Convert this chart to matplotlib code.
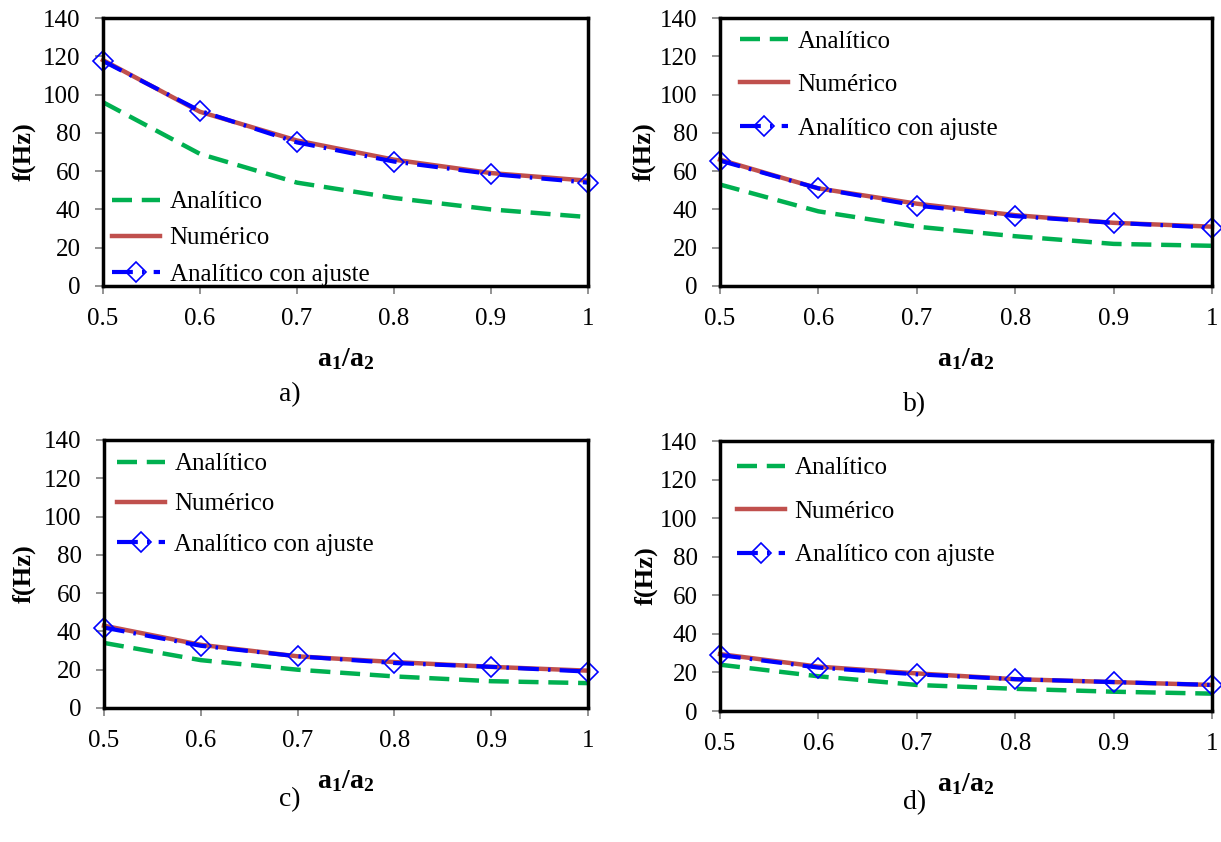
import matplotlib.pyplot as plt
from matplotlib.ticker import FuncFormatter

plt.rcParams['font.family'] = ['Liberation Serif', 'DejaVu Serif']
plt.rcParams['mathtext.fontset'] = 'custom'
plt.rcParams['mathtext.bf'] = 'Liberation Serif:bold'
plt.rcParams['mathtext.rm'] = 'Liberation Serif'

# Datos
razon = [0.5, 0.6, 0.7, 0.8, 0.9, 1.0]

analitico_a = [96, 69, 54, 46, 40, 36]
numerico_a = [118, 91, 76, 66, 59, 55]
ajuste_a = [117.5, 91.5, 75, 65, 58.5, 54]

analitico_b = [53, 39, 31, 26, 22, 21]
numerico_b = [66, 51, 43, 37, 33, 31]
ajuste_b = [65.5, 51, 42, 36.5, 33, 30.5]

analitico_c = [34, 25, 20, 16.5, 14, 13]
numerico_c = [43, 33, 27, 24, 21.5, 19.5]
ajuste_c = [42, 32.5, 27, 23.5, 21.5, 19]

analitico_d = [24, 18, 13.5, 11.5, 10, 9]
numerico_d = [29.5, 23, 19.5, 16.5, 15, 13.5]
ajuste_d = [29, 22.5, 19, 16.5, 15, 13.5]

W, H = 1221, 842

# (letra, datos..., caja en px [izq, arriba, der, abajo], leyenda (x, y) px, espaciado,
#  ylabel x px, pie (x, y) px)
paneles = [
    ('a)', analitico_a, numerico_a, ajuste_a, (103, 18, 588, 286), (112, 191), 0.54, 36, (290, 395)),
    ('b)', analitico_b, numerico_b, ajuste_b, (720, 18, 1212, 286), (740, 30), 0.84, 656, (915, 405)),
    ('c)', analitico_c, numerico_c, ajuste_c, (104, 440, 588, 708), (117, 453), 0.7, 36, (290, 800)),
    ('d)', analitico_d, numerico_d, ajuste_d, (720, 441, 1212, 711), (737, 457), 0.84, 658, (915, 803)),
]

fig = plt.figure(figsize=(W / 100, H / 100), dpi=100)

for letra, an, nu, aj, caja, ley, esp, ylx, pie in paneles:
    x0, y0, x1, y1 = caja
    ax = fig.add_axes([x0 / W, 1 - y1 / H, (x1 - x0) / W, (y1 - y0) / H])
    ax.plot(razon, an, color='#00B050', lw=3.2, ls=(0, (4.5, 2.2)), label='Analítico')
    ax.plot(razon, nu, color='#C0504D', lw=3.2, label='Numérico')
    ax.plot(razon, aj, color='#0000FF', lw=3, ls=(0, (5, 2.2, 0.6, 2.2)), marker='D',
            markersize=10, markerfacecolor='none', markeredgecolor='#0000FF',
            markeredgewidth=1.2, label='Analítico con ajuste')
    ax.set_xlim(0.5, 1.0)
    ax.set_ylim(0, 140)
    ax.set_xticks(razon)
    ax.set_yticks(range(0, 141, 20))
    ax.xaxis.set_major_formatter(FuncFormatter(lambda v, p: ('%g' % v)))
    ax.tick_params(direction='out', length=6, width=1.2, color='#808080', labelsize=18)
    ax.tick_params(axis='x', pad=10)
    ax.tick_params(axis='y', pad=10)
    for s in ax.spines.values():
        s.set_linewidth(2.5)
        s.set_color('black')
    for c in ax.get_lines():
        c.set_clip_on(False)
    ax.set_ylabel('f(Hz)', fontsize=19, fontweight='bold')
    ax.yaxis.set_label_coords((ylx - x0) / (x1 - x0), 0.5)
    ax.set_xlabel(r'$\mathbf{a_1/a_2}$', fontsize=20)
    ax.xaxis.set_label_coords(0.5, -60 / (y1 - y0))
    ax.legend(loc='upper left', bbox_to_anchor=(ley[0] / W, 1 - ley[1] / H),
              bbox_transform=fig.transFigure, frameon=False, fontsize=18,
              handlelength=1.9, handletextpad=0.4, labelspacing=esp,
              borderpad=0, borderaxespad=0)
    fig.text(pie[0] / W, 1 - pie[1] / H, letra, ha='center', va='center', fontsize=20)

fig.savefig('out.png', dpi=100)
